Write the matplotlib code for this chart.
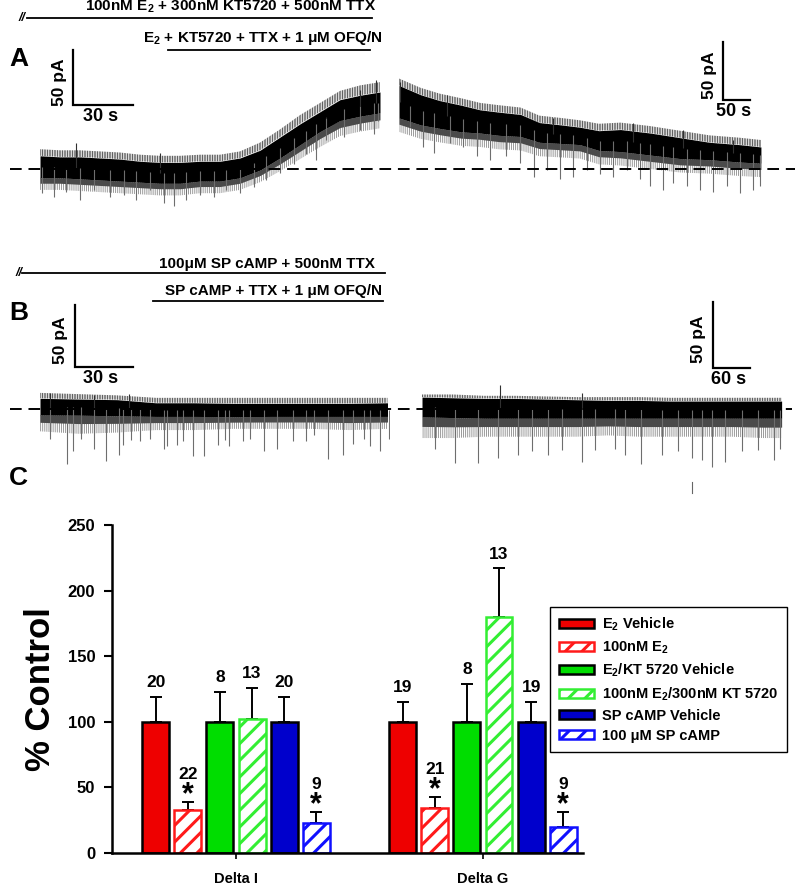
import numpy as np
import matplotlib
matplotlib.use('Agg')
import matplotlib.pyplot as plt
from matplotlib.patches import Patch

plt.rcParams['font.family'] = ['Liberation Sans', 'DejaVu Sans']
plt.rcParams['font.weight'] = 'bold'
plt.rcParams['axes.labelweight'] = 'bold'
plt.rcParams['mathtext.fontset'] = 'custom'
plt.rcParams['mathtext.rm'] = 'Liberation Sans:bold'
plt.rcParams['mathtext.bf'] = 'Liberation Sans:bold'
plt.rcParams['mathtext.default'] = 'rm'
plt.rcParams['hatch.linewidth'] = 2.2

# ---------------- trace data (time in s, current in pA relative to baseline) -------------
# A, before the gap
a1_t = [0, 10, 20, 30, 40, 50, 60, 70, 80, 90, 100, 110, 120, 130, 140, 150, 160, 170]
a1_hi = [18, 17, 17, 16, 15, 13, 12, 12, 13, 13, 16, 24, 36, 49, 60, 71, 76, 79]
a1_top = [12, 11, 11, 10, 9, 7, 6, 6, 7, 7, 10, 17, 29, 41, 52, 63, 67, 70]
a1_bot = [-8, -8, -9, -10, -11, -12, -13, -13, -11, -11, -8, -1, 10, 22, 34, 44, 48, 51]
a1_low = [-19, -19, -20, -21, -22, -23, -24, -24, -22, -22, -19, -12, -2, 9, 20, 30, 34, 37]
a1_dn_t = [1, 7, 13, 20, 27, 35, 42, 48, 55, 62, 67, 73, 80, 87, 93, 100, 107, 113, 120,
           127, 133, 138, 143, 152, 160, 167, 169]
a1_dn_v = [-22, -25, -21, -28, -19, -25, -24, -28, -19, -31, -34, -28, -24, -25, -19, -22,
           -16, -10, -4, 5, 14, 8, 26, 29, 35, 32, 44]
a1_up_t = [18, 60, 143, 160, 168]
a1_up_v = [24, 15, 47, 72, 81]

# A, after the gap
a2_t = [0, 40, 75, 115, 150, 185, 225, 260, 300, 335, 370, 410, 465, 520, 575, 630, 670]
a2_hi = [78, 70, 65, 61, 57, 55, 53, 46, 44, 42, 39, 40, 37, 33, 29, 27, 25]
a2_top = [72, 64, 59, 55, 51, 49, 47, 40, 38, 36, 33, 34, 31, 27, 23, 21, 19]
a2_bot = [44, 38, 35, 32, 31, 29, 28, 23, 22, 21, 16, 15, 12, 9, 8, 6, 5]
a2_low = [32, 26, 23, 20, 19, 17, 16, 11, 10, 9, 4, 3, 0, -3, -4, -6, -7]
a2_dn_t = [20, 45, 64, 94, 119, 144, 169, 199, 224, 249, 274, 298, 323, 348, 372, 397,
           422, 446, 465, 489, 508, 533, 557, 582, 607, 631, 656, 669]
a2_dn_v = [36, 19, 14, 22, 19, 11, 8, 11, 5, -7, -1, -9, -7, -1, -4, -7, -1, -9, -15,
           -18, -12, -15, -18, -20, -15, -21, -18, -15]
a2_up_t = [2, 88, 286, 434, 526, 619]
a2_up_v = [75, 64, 44, 40, 34, 25]

# B, before the gap
b1_t = [0, 20, 40, 60, 80, 100, 120, 140, 160, 180]
b1_hi = [13, 12, 11, 9, 9, 9, 9, 9, 9, 9]
b1_top = [8.6, 8, 7.5, 5, 5, 4.5, 4.5, 4.5, 4.5, 5]
b1_bot = [-4.8, -5, -5.5, -6, -6, -6.2, -6, -6, -6, -6]
b1_low = [-18, -20, -19, -17, -17, -16, -16, -16, -17, -16]
b1_dn_t = [5, 14, 17, 21, 28, 34, 41, 43, 47, 52, 57, 64, 66, 71, 74, 79, 85, 92, 96, 98,
           105, 109, 116, 123, 131, 138, 142, 149, 157, 162, 168, 171, 176, 181]
b1_dn_v = [-24, -44, -34, -24, -32, -42, -37, -29, -25, -26, -24, -32, -30, -29, -26, -38,
           -38, -29, -25, -30, -26, -24, -34, -32, -26, -26, -21, -40, -37, -28, -24, -30,
           -34, -24]
b1_up_t = [5, 28, 46]
b1_up_v = [13, 11, 12]

# B, after the gap
b2_t = [0, 50, 100, 150, 200, 250, 300, 350, 400, 450, 500, 550, 580]
b2_hi = [11, 11, 10, 10, 9.5, 9, 9, 9, 8.5, 8.5, 8.5, 8.5, 8.5]
b2_top = [9, 8.5, 8, 8, 7.5, 7, 6.5, 6.5, 6, 6, 6, 6, 6]
b2_bot = [-6, -6.5, -7, -7, -7, -7, -7, -7, -7, -7, -7, -7, -7]
b2_low = [-22, -22, -21, -21, -21, -21, -20, -21, -21, -21, -21, -22, -22]
b2_dn_t = [21, 53, 91, 123, 155, 177, 204, 225, 258, 279, 311, 327, 354, 387, 413, 435,
           451, 467, 489, 516, 542, 567, 577]
b2_dn_v = [-30, -41, -41, -37, -35, -32, -35, -31, -40, -31, -30, -35, -42, -35, -32, -37,
           -39, -44, -40, -32, -31, -39, -30]
b2_up_t = [126, 258]
b2_up_v = [18, 12]

# ---------------- bar chart data (panel C) ----------------
groups = ['Delta I', 'Delta G']
labels = [r'E$_2$ Vehicle', r'100nM E$_2$', r'E$_2$/KT 5720 Vehicle',
          r'100nM E$_2$/300nM KT 5720', 'SP cAMP Vehicle', '100 μM SP cAMP']
colors = ['#ee0000', '#ff1a1a', '#00dd00', '#33ee33', '#0000cc', '#1010ff']
hatched = [False, True, False, True, False, True]
means_i = [100, 33, 100, 102, 100, 23]
errs_i = [19, 6, 23, 24, 19, 8]
means_g = [100, 34, 100, 180, 100, 20]
errs_g = [15, 9, 29, 37, 15, 11]
n_i = [20, 22, 8, 13, 20, 9]
n_g = [19, 21, 8, 13, 19, 9]
star = [False, True, False, False, False, True]

W, H = 800, 892
fig = plt.figure(figsize=(W / 100, H / 100), dpi=100)


def px_axes(x0, x1, y0, y1, zorder=1):
    return fig.add_axes([x0 / W, 1 - y1 / H, (x1 - x0) / W, (y1 - y0) / H], zorder=zorder)


def trace_axes(x0, x1, t_end, base, px_pa, ytop, ybot):
    ax = px_axes(x0, x1, ytop, ybot, zorder=2)
    ax.set_xlim(0, t_end)
    ax.set_ylim((base - ybot) / px_pa, (base - ytop) / px_pa)
    ax.axis('off')
    return ax


def hatch_fill(ax, t, y1, y2, color, pattern, lw=0.7):
    with plt.rc_context({'hatch.color': color, 'hatch.linewidth': lw}):
        pc = ax.fill_between(t, y1, y2, facecolor='none', edgecolor=color, hatch=pattern, lw=0)
    if hasattr(pc, 'set_hatch_linewidth'):
        pc.set_hatch_linewidth(lw)
    return pc


def draw_trace(ax, t, hi, top, bot, low, dn_t, dn_v, up_t, up_v):
    t = np.array(t, float)
    top = np.array(top, float)
    bot = np.array(bot, float)
    low = np.array(low, float)
    mid = (top + bot) / 2
    near = bot + (low - bot) * 0.45
    hatch_fill(ax, t, low, bot, '#8a8a8a', '||||||||', 0.6)
    ax.fill_between(t, near, bot, color='#4a4a4a', lw=0)
    hatch_fill(ax, t, top, hi, '#1e1e1e', '||||||||||', 0.5)
    ax.fill_between(t, bot, top, color='black', lw=0)
    ax.vlines(dn_t, dn_v, np.interp(dn_t, t, mid), color='#6e6e6e', lw=0.8)
    ax.vlines(up_t, np.interp(up_t, t, mid), up_v, color='#303030', lw=0.8)


def scalebar(ax, t0, v0, dt, dv, tlab):
    ax.plot([t0, t0, t0 + dt], [v0 + dv, v0, v0], color='black', lw=1.6,
            clip_on=False, solid_joinstyle='miter')
    ax.annotate('50 pA', (t0, v0 + dv / 2), xytext=(-10, -3), textcoords='offset points',
                rotation=90, ha='center', va='center', fontsize=12.5, fontweight='bold')
    ax.annotate(tlab, (t0 + dt / 2, v0), xytext=(-2, -2), textcoords='offset points',
                ha='center', va='top', fontsize=13, fontweight='bold')


# overlay in pixel units for annotation lines and labels
ov = px_axes(0, W, 0, H, zorder=5)
ov.set_xlim(0, W)
ov.set_ylim(H, 0)
ov.axis('off')

# ---- panel A ----
axa1 = trace_axes(40, 380, 170, 169, 1.1, 40, 215)
draw_trace(axa1, a1_t, a1_hi, a1_top, a1_bot, a1_low, a1_dn_t, a1_dn_v, a1_up_t, a1_up_v)
scalebar(axa1, 16.5, 58, 30, 50, '30 s')

axa2 = trace_axes(399, 762, 672, 169, 1.16, 35, 215)
draw_trace(axa2, a2_t, a2_hi, a2_top, a2_bot, a2_low, a2_dn_t, a2_dn_v, a2_up_t, a2_up_v)
scalebar(axa2, 600, 59.5, 50, 50, '50 s')

# ---- panel B ----
axb1 = trace_axes(40, 390, 181.3, 409, 1.24, 290, 480)
draw_trace(axb1, b1_t, b1_hi, b1_top, b1_bot, b1_low, b1_dn_t, b1_dn_v, b1_up_t, b1_up_v)
scalebar(axb1, 18, 34, 30, 50, '30 s')

axb2 = trace_axes(422, 782, 580.6, 409, 1.32, 290, 500)
draw_trace(axb2, b2_t, b2_hi, b2_top, b2_bot, b2_low, b2_dn_t, b2_dn_v, b2_up_t, b2_up_v)
scalebar(axb2, 469, 31, 60, 50, '60 s')
axb2.plot([435, 435], [-55, -64], color='#666666', lw=0.8)

# drug application bars, panel labels, baselines
ov.plot([10, 795], [169, 169], color='black', lw=1.4, ls=(0, (6, 3.5)))
ov.plot([10, 792], [409, 409], color='black', lw=1.4, ls=(0, (6, 3.5)))

ov.text(22, 18, '//', ha='center', va='center', fontsize=9, style='italic')
ov.plot([27, 372], [18, 18], color='black', lw=1.3)
ov.text(376, 11, r'100nM E$_2$ + 300nM KT5720 + 500nM TTX', ha='right', va='baseline',
        fontsize=11)
ov.text(383, 42, r'E$_2$ + KT5720 + TTX + 1 μM OFQ/N', ha='right', va='baseline', fontsize=11)
ov.plot([168, 370], [50, 50], color='black', lw=1.3)
ov.text(9, 59, 'A', ha='left', va='center', fontsize=19)

ov.text(19, 273, '//', ha='center', va='center', fontsize=9, style='italic')
ov.plot([22, 385], [273, 273], color='black', lw=1.3)
ov.text(375, 268, '100μM SP cAMP + 500nM TTX', ha='right', va='baseline', fontsize=11)
ov.text(382, 295, 'SP cAMP + TTX + 1 μM OFQ/N', ha='right', va='baseline', fontsize=11)
ov.plot([153, 383], [301, 301], color='black', lw=1.3)
ov.text(9, 313, 'B', ha='left', va='center', fontsize=19)

ov.text(9, 478, 'C', ha='left', va='center', fontsize=19)

# ---- panel C ----
axc = px_axes(112, 583, 525, 853, zorder=1)
step, width = 0.13, 0.109
for g, (means, errs, ns) in enumerate([(means_i, errs_i, n_i), (means_g, errs_g, n_g)]):
    for i in range(len(labels)):
        x = g + (i - 2.5) * step
        if hatched[i]:
            axc.bar(x, means[i], width, facecolor='white', edgecolor=colors[i], hatch='//',
                    lw=1.8, zorder=2)
        else:
            axc.bar(x, means[i], width, color=colors[i], edgecolor='black', lw=1.8, zorder=2)
        axc.errorbar(x, means[i], yerr=[[0], [errs[i]]], color='black', lw=1.4, capsize=4,
                     capthick=1.4, zorder=1)
        top = means[i] + errs[i]
        if star[i]:
            axc.annotate('*', (x, top), xytext=(0, -1), textcoords='offset points',
                         ha='center', va='baseline', fontsize=22, fontweight='bold')
            axc.annotate(str(ns[i]), (x, top), xytext=(0, 16.5), textcoords='offset points',
                         ha='center', va='baseline', fontsize=12.5, fontweight='bold')
        else:
            axc.annotate(str(ns[i]), (x, top), xytext=(0, 7), textcoords='offset points',
                         ha='center', va='baseline', fontsize=12.5, fontweight='bold')

axc.set_xlim(-0.502, 1.405)
axc.set_ylim(0, 250)
axc.set_yticks([0, 50, 100, 150, 200, 250])
axc.set_yticklabels(['0', '50', '100', '150', '200', '250'], fontsize=12, fontweight='bold')
axc.set_xticks([0, 1])
axc.set_xticklabels(groups, fontsize=10.5, fontweight='bold')
axc.tick_params(axis='y', width=1.5, length=6, direction='out', pad=6)
axc.tick_params(axis='x', width=1.2, length=4, pad=10)
axc.spines['top'].set_visible(False)
axc.spines['right'].set_visible(False)
axc.spines['left'].set_linewidth(1.8)
axc.spines['bottom'].set_linewidth(1.8)
axc.set_ylabel('% Control', fontsize=25, fontweight='bold', labelpad=8)

handles = []
for i in range(len(labels)):
    if hatched[i]:
        handles.append(Patch(facecolor='white', edgecolor=colors[i], hatch='//', lw=1.8))
    else:
        handles.append(Patch(facecolor=colors[i], edgecolor='black', lw=1.8))
leg = fig.legend(handles, labels, loc='upper left', bbox_to_anchor=(550 / W, 1 - 607 / H),
                 bbox_transform=fig.transFigure, frameon=True, fancybox=False,
                 edgecolor='black', framealpha=1, handlelength=2.4, handleheight=0.6,
                 handletextpad=0.55, labelspacing=0.42, borderpad=0.6, borderaxespad=0,
                 prop={'weight': 'bold', 'size': 10.5})
leg.get_frame().set_linewidth(1.0)

fig.savefig('out.png', dpi=100)
